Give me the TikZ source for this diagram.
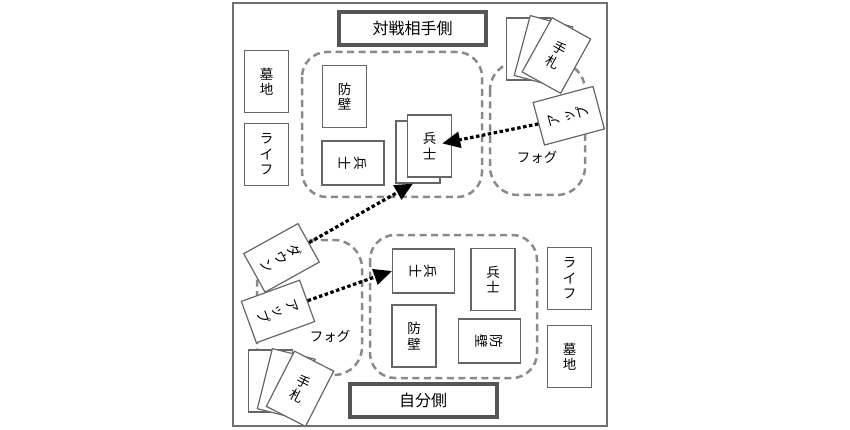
\documentclass[tikz,border=0pt]{standalone}
\usepackage{fontspec}
\setmainfont{Noto Sans CJK JP}
\usetikzlibrary{arrows.meta}
\definecolor{framegray}{HTML}{707070}
\definecolor{cardgray}{HTML}{666666}
\definecolor{zonegray}{HTML}{8A8A8A}
\definecolor{titlegray}{HTML}{555555}

\begin{document}
\begin{tikzpicture}[x=1pt,y=1pt]
        \tikzstyle{every node}+=[inner sep=0pt, font=\fontsize{13.5}{15.5}\selectfont]
        \tikzstyle{card}=[draw=cardgray, line width=1.2pt, fill=white, minimum width=44pt, minimum height=62pt, align=center]
        \tikzstyle{zone}=[draw=zonegray, line width=2.5pt, dash pattern=on 7pt off 4.5pt, rounded corners=25pt]
        \tikzstyle{side}=[draw=titlegray, line width=4pt, fill=white, minimum width=147pt, minimum height=33pt, font=\fontsize{16}{18}\selectfont]
        \tikzstyle{attack}=[line width=3.2pt, dash pattern=on 3.5pt off 2.5pt, -{Triangle[length=18pt,width=16pt]}]
        \useasboundingbox (0,0) rectangle (850,-430);
        \draw [framegray, line width=1.5pt] (233,-3) rectangle (607,-426);
        % zones
        \draw [zone] (302,-52) rectangle (482,-197);
        \draw [zone, rounded corners=28pt] (490,-62) rectangle (585,-195);
        \draw [zone] (370,-235) rectangle (537,-378);
        \draw [zone, rounded corners=28pt] (257,-240) rectangle (362,-375);
        \node (fogopp) at (537,-157) {フォグ};
        \node (fogme) at (330,-336) {フォグ};
        % opponent
        \node [side] (oppside) at (412.5,-28.5) {対戦相手側};
        \node [card] (gyopp) at (266.5,-81.5) {墓\\地};
        \node [card] (lifeopp) at (266.5,-154.5) {ラ\\イ\\フ};
        \node [card] (wallopp) at (344.5,-96.5) {防\\壁};
        \node [card, rotate=-90] (restopp) at (353,-163) {兵\\士};
        \node [card] (soldback) at (418,-152) {};
        \node [card] (soldfront) at (429.5,-146) {兵\\士};
        \node [card] (handopp1) at (528.5,-49) {};
        \node [card, rotate=-15] (handopp2) at (543.5,-51.2) {};
        \node [card, rotate=-29] (handopp3) at (556.4,-55.5) {手\\札};
        \node [card, rotate=105] (upopp) at (568.75,-115.75) {ア\\ッ\\プ};
        % me
        \node [side] (myside) at (423,-400.5) {自分側};
        \node [card] (lifeme) at (569.5,-278.5) {ラ\\イ\\フ};
        \node [card] (gyme) at (569.5,-356.5) {墓\\地};
        \node [card, rotate=-90] (restme) at (423.5,-271) {兵\\士};
        \node [card] (soldme) at (493,-279.5) {兵\\士};
        \node [card] (wallme) at (414,-336) {防\\壁};
        \node [card, rotate=-90] (wallrest) at (489.5,-341) {防\\壁};
        \node [card, rotate=-61] (down) at (281.5,-257.9) {ダ\\ウ\\ン};
        \node [card, rotate=-70] (upme) at (278,-311.5) {ア\\ッ\\プ};
        \node [card] (handme1) at (270.5,-381) {};
        \node [card, rotate=-14] (handme2) at (286.2,-384) {};
        \node [card, rotate=-27] (handme3) at (300,-388.75) {手\\札};
        % arrows
        \draw [attack, shorten >=13pt] (upopp.north) -- (soldfront.center);
        \draw [attack] (down.north) -- ([xshift=-5pt]soldback.south);
        \draw [attack] (upme.north) -- (restme.south);
      \end{tikzpicture}
\end{document}
